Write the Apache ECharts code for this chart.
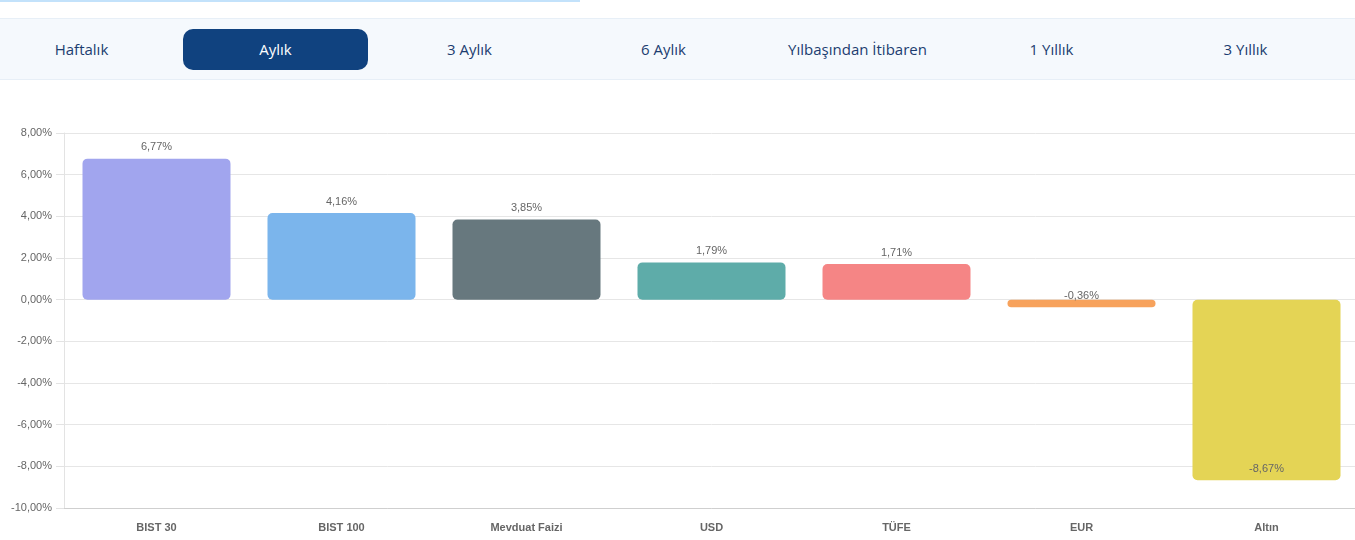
<!DOCTYPE html>
<html>
<head>
<meta charset="utf-8">
<script src="https://cdn.jsdelivr.net/npm/echarts@6/dist/echarts.min.js"></script>
<style>
  html, body { margin:0; padding:0; width:1355px; height:540px; overflow:hidden; background:#fff; }
  #topline { position:absolute; left:0; top:0; width:580px; height:2px; background:#c3e2fb; }
  #tabs { position:absolute; left:0; top:18px; width:1355px; height:60px; background:#f5f9fd;
          border-top:1px solid #e7eff7; border-bottom:1px solid #e7eff7; z-index:2; }
  .tab { position:absolute; top:10px; height:41px; line-height:40px; text-align:center;
         font-family:"Open Sans", sans-serif; font-size:15px; color:#1c3d70; }
  .tab.active { background:#10427f; color:#fff; border-radius:10px; }
  #chart { position:absolute; left:0; top:0; width:1359px; height:540px; }
</style>
</head>
<body>
<div id="chart"></div>
<div id="topline"></div>
<div id="tabs"></div>
<script>
const tabLabels = ["Haftalık", "Aylık", "3 Aylık", "6 Aylık", "Yılbaşından İtibaren", "1 Yıllık", "3 Yıllık"];
const activeTab = 1;
const categories = ["BIST 30", "BIST 100", "Mevduat Faizi", "USD", "TÜFE", "EUR", "Altın"];
const values = [6.77, 4.16, 3.85, 1.79, 1.71, -0.36, -8.67];
const colors = ["#a1a5ee", "#7bb5ec", "#67787e", "#5eaca9", "#f58585", "#f7a25c", "#e4d455"];
const yTicks = { min: -10, max: 8, interval: 2 };

const tabsEl = document.getElementById('tabs');
tabLabels.forEach((t, i) => {
  const d = document.createElement('div');
  d.className = 'tab' + (i === activeTab ? ' active' : '');
  const cx = 81 + i * 194;
  const w = 185;
  d.style.left = (cx - w / 2 + 0.5) + 'px';
  d.style.width = w + 'px';
  d.textContent = t;
  tabsEl.appendChild(d);
});

const fmt = v => v.toFixed(2).replace('.', ',') + '%';

const chart = echarts.init(document.getElementById('chart'), null, { renderer: 'canvas' });
chart.setOption({
  animation: false,
  grid: { left: 64, right: 0, top: 133, bottom: 32, containLabel: false },
  xAxis: {
    type: 'category',
    data: categories,
    axisLine: { onZero: false, lineStyle: { color: '#cfcfcf' } },
    axisTick: { show: false },
    axisLabel: { color: '#666', fontFamily: 'Liberation Sans, Arial, sans-serif', fontSize: 11, fontWeight: 'bold', margin: 14 },
    splitLine: { show: false }
  },
  yAxis: {
    type: 'value',
    min: yTicks.min, max: yTicks.max, interval: yTicks.interval,
    axisLine: { show: true, lineStyle: { color: '#e3e3e3' } },
    axisTick: { show: true, length: 8, lineStyle: { color: '#e3e3e3' } },
    axisLabel: { color: '#666', fontFamily: 'Liberation Sans, Arial, sans-serif', fontSize: 11, margin: 12, formatter: fmt },
    splitLine: { lineStyle: { color: '#e6e6e6' } }
  },
  series: [{
    type: 'bar',
    barCategoryGap: '20%',
    data: values.map((v, i) => ({
      value: v,
      itemStyle: { color: colors[i], borderRadius: 5 },
      label: v < -1 ? { position: 'insideBottom', distance: 6 } : (v < 0 ? { position: 'top', distance: -2 } : { position: 'top', distance: 6 })
    })),
    label: {
      show: true,
      color: '#666',
      fontFamily: 'Liberation Sans, Arial, sans-serif',
      fontSize: 11,
      formatter: p => fmt(p.value)
    }
  }]
});
</script>
</body>
</html>
